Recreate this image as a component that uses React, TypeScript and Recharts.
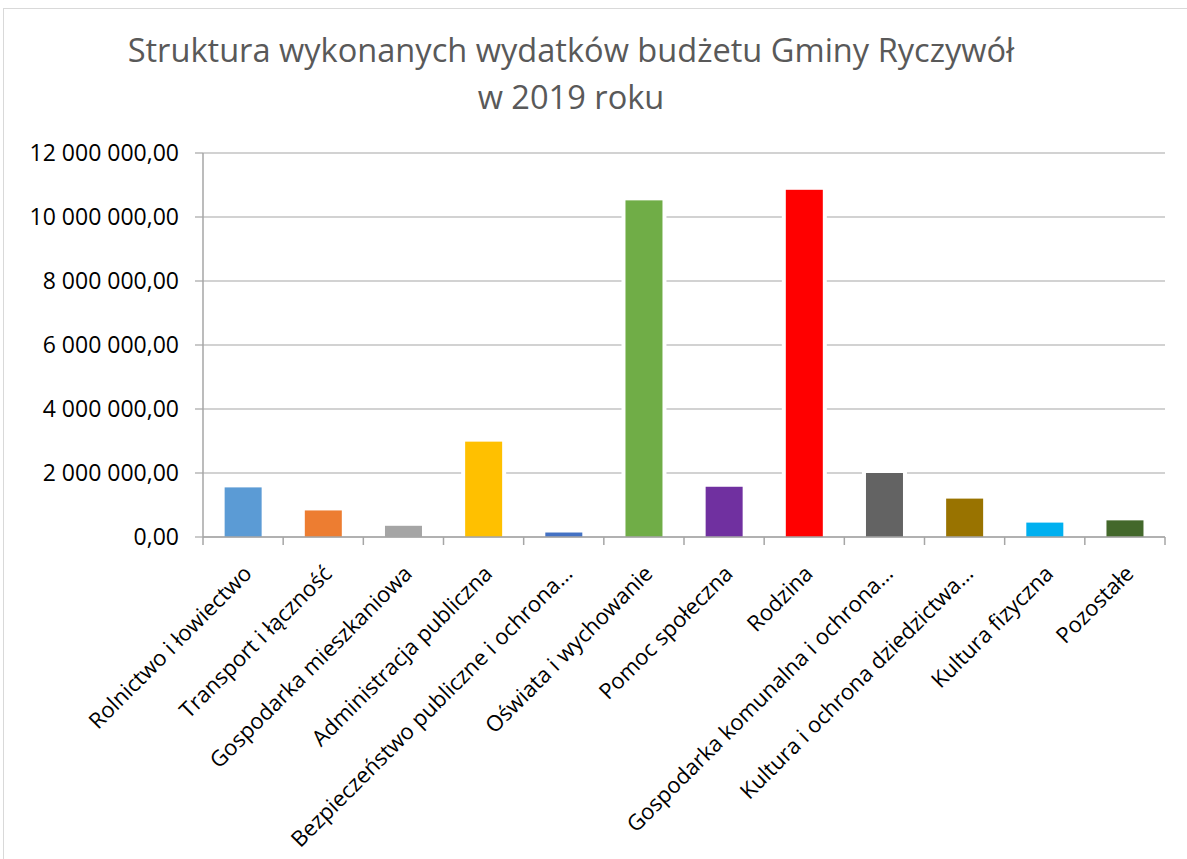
import React from "react";
import { BarChart, Bar, XAxis, YAxis, CartesianGrid } from "recharts";

// Wydatki wg działów (zł)
const categories = [
	"Rolnictwo i łowiectwo",
	"Transport i łączność",
	"Gospodarka mieszkaniowa",
	"Administracja publiczna",
	"Bezpieczeństwo publiczne i ochrona…",
	"Oświata i wychowanie",
	"Pomoc społeczna",
	"Rodzina",
	"Gospodarka komunalna i ochrona…",
	"Kultura i ochrona dziedzictwa…",
	"Kultura fizyczna",
	"Pozostałe",
];

const values = [
	1550000, 830000, 350000, 2980000, 140000, 10520000, 1570000, 10850000, 2000000, 1200000, 450000, 520000,
];

const colors = [
	"#5B9BD5", "#ED7D31", "#A5A5A5", "#FFC000", "#4472C4", "#70AD47",
	"#7030A0", "#FF0000", "#636363", "#997300", "#00B0F0", "#43682B",
];

const yTicks = [0, 2000000, 4000000, 6000000, 8000000, 10000000, 12000000];
const boundaryTicks = [0, 1, 2, 3, 4, 5, 6, 7, 8, 9, 10, 11, 12];

const data = categories.map((name, i) => ({ name, value: values[i], color: colors[i], idx: i + 0.5 }));

const FONT = "'Open Sans', 'DejaVu Sans', sans-serif";
const GRID = "#a6a6a6";

function formatPl(v: number) {
	const int = Math.round(v).toString().replace(/\B(?=(\d{3})+(?!\d))/g, " ");
	return `${int},00`;
}

// bar with a white halo, like Excel's gap around the columns
const HaloBar = (props: any) => {
	const { x, y, width, height, payload } = props;
	if (height <= 0) return null;
	return (
		<g>
			<rect x={x - 4} y={y - 4} width={width + 8} height={height + 3} fill='#ffffff' />
			<rect x={x} y={y} width={width} height={height} fill={payload.color} />
		</g>
	);
};

const CategoryTick = ({ x, y, payload, index }: any) => {
	const half = typeof payload?.offset === "number" ? payload.offset : 0;
	return (
		<g>
			{half > 0 && (
				<line x1={x - half} x2={x - half} y1={y} y2={y + 8} stroke={GRID} strokeWidth={1.5} />
			)}
			{half > 0 && index === categories.length - 1 && (
				<line x1={x + half} x2={x + half} y1={y} y2={y + 8} stroke={GRID} strokeWidth={1.5} />
			)}
			<g transform={`translate(${x + 10},${y + 38})`}>
				<text transform='rotate(-45)' textAnchor='end' fontSize={22} fontFamily={FONT} fill='#000'>
					{payload.value}
				</text>
			</g>
		</g>
	);
};

const EmptyTick = () => <g />;

export default function App() {
	return (
		<div
			style={{
				position: "fixed",
				left: 3,
				top: 8,
				width: 1184,
				height: 851,
				borderLeft: "1px solid #d9d9d9",
				borderTop: "1px solid #d9d9d9",
				background: "#fff",
			}}
		>
			<div
				style={{
					position: "absolute",
					left: 0,
					top: 17,
					width: 1134,
					textAlign: "center",
					fontFamily: FONT,
					fontSize: 32.6,
					lineHeight: "47px",
					color: "#595959",
				}}
			>
				Struktura wykonanych wydatków budżetu Gminy Ryczywół
				<br />w 2019 roku
			</div>
			<BarChart
				width={1183}
				height={850}
				data={data}
				margin={{ top: 144, right: 22, left: 0, bottom: 0 }}
				barCategoryGap='27%'
			>
				<CartesianGrid vertical={false} stroke={GRID} strokeWidth={1.2} />
				<XAxis
					xAxisId={0}
					type='number'
					dataKey='idx'
					domain={[0, 12]}
					ticks={boundaryTicks}
					tick={<EmptyTick />}
					axisLine={false}
					tickLine={{ stroke: GRID, strokeWidth: 1.5 }}
					tickSize={8}
					height={0}
				/>
				<XAxis
					xAxisId='cat'
					dataKey='name'
					interval={0}
					tick={<CategoryTick />}
					tickLine={false}
					tickSize={0}
					tickMargin={0}
					axisLine={{ stroke: GRID, strokeWidth: 1.5 }}
					height={322}
				/>
				<YAxis
					domain={[0, 12000000]}
					ticks={yTicks}
					tickFormatter={formatPl}
					width={199}
					tickSize={8}
					tickMargin={16}
					tickLine={{ stroke: GRID, strokeWidth: 1.2 }}
					axisLine={{ stroke: GRID, strokeWidth: 1.5 }}
					tick={{ fontSize: 23, fontFamily: FONT, fill: "#000" }}
				/>
				<Bar xAxisId='cat' dataKey='value' shape={<HaloBar />} isAnimationActive={false} />
			</BarChart>
		</div>
	);
}
